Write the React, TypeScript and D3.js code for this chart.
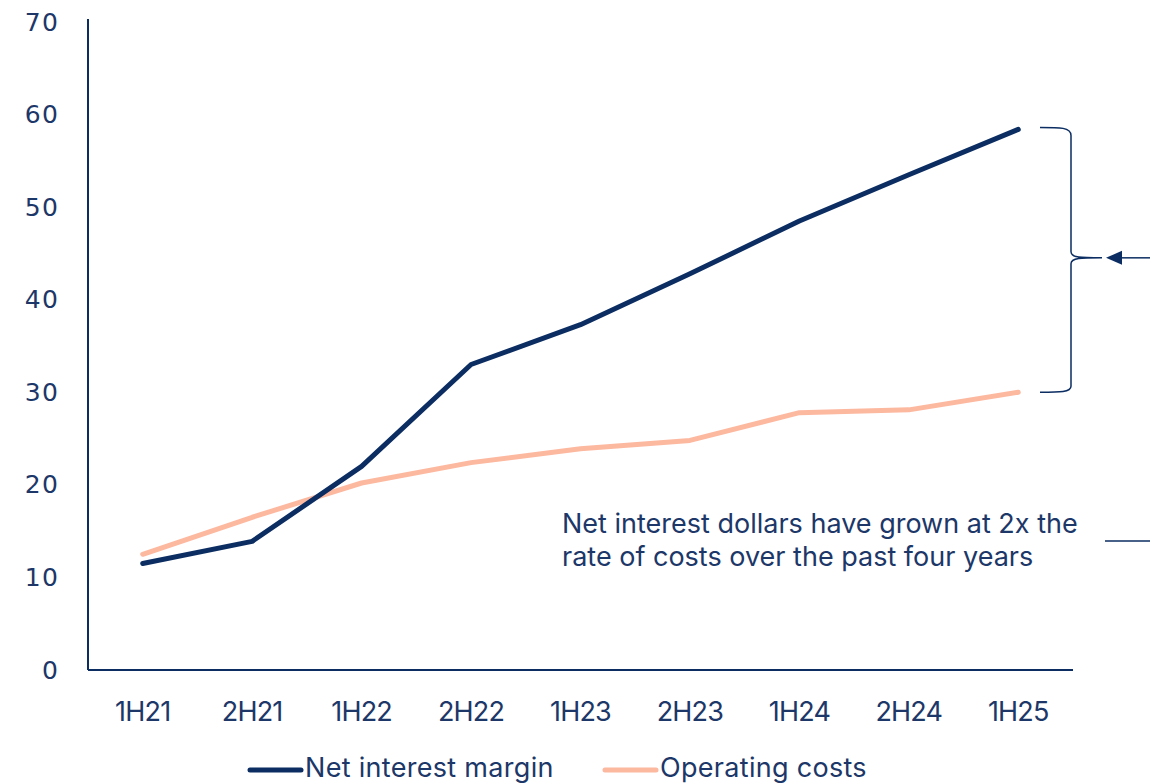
import React from "react";
import * as d3 from "d3";

const periods = ["1H21", "2H21", "1H22", "2H22", "1H23", "2H23", "1H24", "2H24", "1H25"];
const netInterestMargin = [11.5, 13.9, 22.0, 33.0, 37.3, 42.8, 48.5, 53.5, 58.4];
const operatingCosts = [12.5, 16.5, 20.2, 22.4, 23.9, 24.8, 27.8, 28.1, 30.0];
const yTicks = [0, 10, 20, 30, 40, 50, 60, 70];

const NAVY = "#0b2d62";
const PEACH = "#fdb8a0";
const TEXT = "#1c3768";
const FONT = "Inter, 'Noto Sans', sans-serif";

const W = 1150;
const H = 784;
const left = 88;
const right = 1073;
const top = 22;
const bottom = 670;

export default function App() {
  const x = d3.scaleBand<string>().domain(periods).range([left, right]).padding(0);
  const y = d3.scaleLinear().domain([0, 70]).range([bottom, top]);
  const cx = (p: string) => (x(p) as number) + x.bandwidth() / 2;

  const line = d3
    .line<number>()
    .x((_, i) => cx(periods[i]))
    .y((v) => y(v));

  const last = periods.length - 1;
  const yTopB = y(netInterestMargin[last]);
  const yBotB = y(operatingCosts[last]);
  const yMid = (yTopB + yBotB) / 2 - 3;
  const bx = 1071;
  const bx0 = 1040;
  const tip = 1102;

  const bracket = [
    `M${bx0},${yTopB - 2}`,
    `C${bx0 + 20},${yTopB - 2} ${bx},${yTopB - 2} ${bx},${yTopB + 6}`,
    `L${bx},${yMid - 6}`,
    `C${bx},${yMid} ${bx + 10},${yMid} ${tip},${yMid}`,
    `C${bx + 10},${yMid} ${bx},${yMid} ${bx},${yMid + 6}`,
    `L${bx},${yBotB - 6}`,
    `C${bx},${yBotB} ${bx0 + 20},${yBotB} ${bx0},${yBotB}`,
  ].join(" ");

  return (
    <svg width={W} height={H} style={{ position: "absolute", left: 0, top: 0, background: "#fff" }}>
      {/* axes */}
      <line x1={left} x2={left} y1={19} y2={bottom} stroke={NAVY} strokeWidth={2} />
      <line x1={left} x2={right} y1={bottom} y2={bottom} stroke={NAVY} strokeWidth={2} />
      {yTicks.map((t) => (
        <text
          key={t}
          x={59.5}
          y={y(t)}
          textAnchor="end"
          dominantBaseline="central"
          fontFamily="'DejaVu Sans', sans-serif"
          fontSize={25}
          fill={TEXT}
          style={{ letterSpacing: "1.5px" }}
        >
          {t}
        </text>
      ))}
      {periods.map((p) => (
        <text
          key={p}
          x={cx(p)}
          y={711}
          textAnchor="middle"
          dominantBaseline="central"
          fontFamily={FONT}
          fontSize={27}
          fill={TEXT}
          style={{ letterSpacing: "-0.8px" }}
        >
          {p}
        </text>
      ))}

      {/* series */}
      <path d={line(operatingCosts) ?? ""} fill="none" stroke={PEACH} strokeWidth={5} strokeLinecap="round" strokeLinejoin="round" />
      <path d={line(netInterestMargin) ?? ""} fill="none" stroke={NAVY} strokeWidth={5} strokeLinecap="round" strokeLinejoin="round" />

      {/* bracket and arrow */}
      <path d={bracket} fill="none" stroke={NAVY} strokeWidth={1.5} />
      <line x1={1118} x2={1150} y1={yMid} y2={yMid} stroke={NAVY} strokeWidth={1.5} />
      <path d={`M1106,${yMid} L1122,${yMid - 7} L1122,${yMid + 7} Z`} fill={NAVY} />

      {/* annotation */}
      <text fontFamily={FONT} fontSize={27} fill={TEXT} style={{ letterSpacing: "0px" }}>
        <tspan x={562} y={533}>Net interest dollars have grown at 2x the</tspan>
        <tspan x={562} y={566}>rate of costs over the past four years</tspan>
      </text>
      <line x1={1105} x2={1150} y1={541} y2={541} stroke={NAVY} strokeWidth={1.5} />

      {/* legend */}
      <line x1={250} x2={301} y1={770} y2={770} stroke={NAVY} strokeWidth={5} strokeLinecap="round" />
      <text x={305} y={777} fontFamily={FONT} fontSize={27} fill={TEXT} style={{ letterSpacing: "0.3px" }}>
        Net interest margin
      </text>
      <line x1={605} x2={656} y1={770} y2={770} stroke={PEACH} strokeWidth={5} strokeLinecap="round" />
      <text x={660} y={777} fontFamily={FONT} fontSize={27} fill={TEXT} style={{ letterSpacing: "0.3px" }}>
        Operating costs
      </text>
    </svg>
  );
}
